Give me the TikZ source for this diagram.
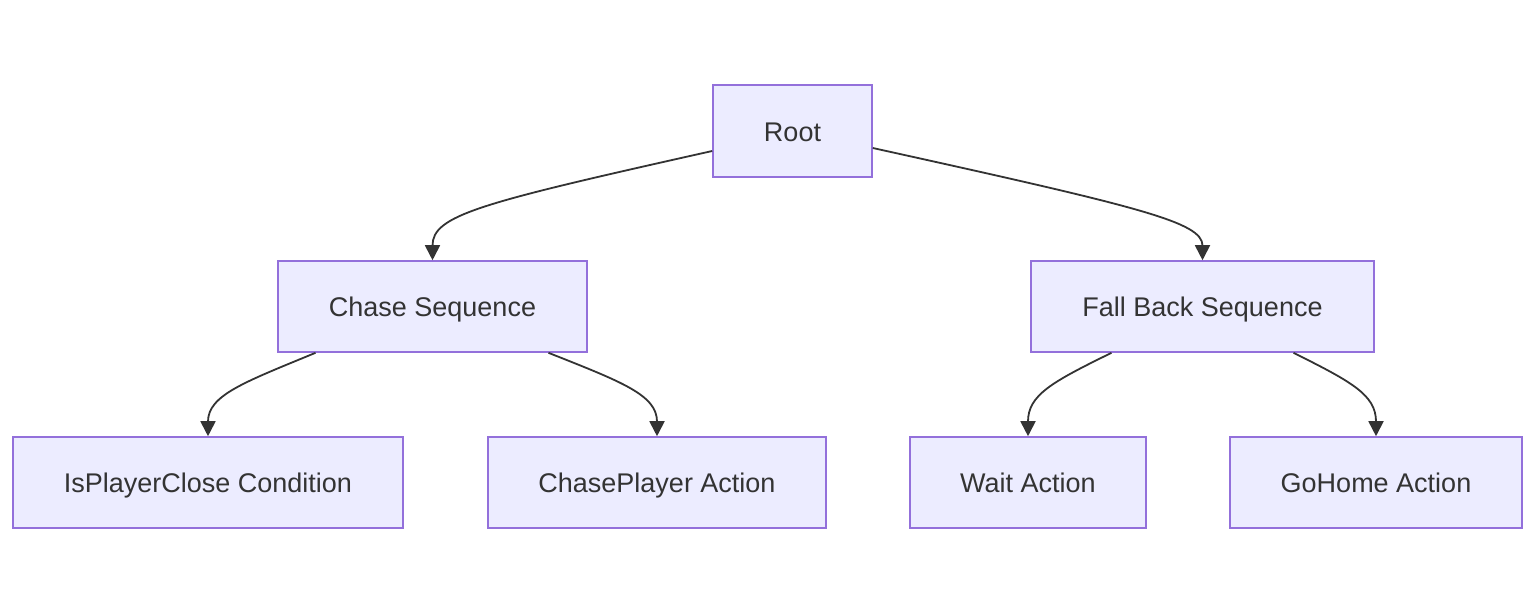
\documentclass[tikz,border=0pt]{standalone}
\usepackage{fontspec}
\setmainfont{Liberation Sans}
\usetikzlibrary{arrows.meta,calc}
\definecolor{nodefill}{HTML}{ECECFF}
\definecolor{nodeline}{HTML}{9370DB}
\definecolor{txt}{HTML}{333333}
\tikzset{
  box/.style={draw=nodeline, fill=nodefill, line width=1.6pt, rectangle, inner sep=0pt,
    text=txt, font=\fontsize{27}{31}\selectfont, text height=22pt, text depth=2pt},
  link/.style={draw=txt, line width=1.8pt, -{Triangle[length=15pt,width=15pt]}}
}
\begin{document}
\begin{tikzpicture}[x=1pt,y=-1pt]
\useasboundingbox (0,0) rectangle (1536,614);
\node[box, minimum width=159pt, minimum height=92pt] (root) at (792.5,131) {Root};
\node[box, minimum width=309pt, minimum height=91pt] (chase) at (432.5,306.5) {Chase Sequence};
\node[box, minimum width=343pt, minimum height=91pt] (fall) at (1202.5,306.5) {Fall Back Sequence};
\node[box, minimum width=390pt, minimum height=91pt] (isp) at (208,482.5) {IsPlayerClose Condition};
\node[box, minimum width=338pt, minimum height=91pt] (cp) at (657,482.5) {ChasePlayer Action};
\node[box, minimum width=236pt, minimum height=91pt] (wait) at (1028,482.5) {Wait Action};
\node[box, minimum width=292pt, minimum height=91pt] (home) at (1376,482.5) {GoHome Action};

\draw[link] ($(root.west)+(0,20)$) .. controls (480,203) and (432.5,215) .. (chase.north);
\draw[link] ($(root.east)+(0,17)$) .. controls (1140,207) and (1202.5,222) .. (fall.north);
\draw[link] ($(chase.south)+(-117,0)$) .. controls (245,382) and (208,395) .. (isp.north);
\draw[link] ($(chase.south)+(116,0)$) .. controls (622,382) and (657,395) .. (cp.north);
\draw[link] ($(fall.south)+(-91,0)$) .. controls (1052,382) and (1028,395) .. (wait.north);
\draw[link] ($(fall.south)+(91,0)$) .. controls (1352,382) and (1376,395) .. (home.north);
\end{tikzpicture}
\end{document}
